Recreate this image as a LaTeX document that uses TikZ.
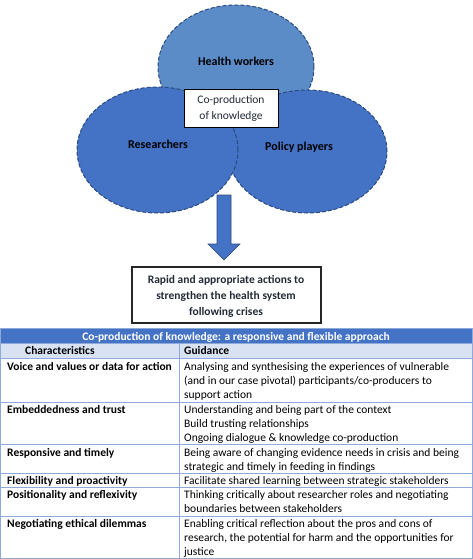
\documentclass[tikz,border=0pt]{standalone}
\usepackage{fontspec}
\setmainfont{Carlito}
\usetikzlibrary{shapes.geometric}
\definecolor{hwblue}{HTML}{5B8CC8}
\definecolor{lblue}{HTML}{4472C4}
\definecolor{dblue}{HTML}{2A4A80}
\definecolor{rowblue}{HTML}{D9E2F3}
\definecolor{gridblue}{HTML}{8EAADB}
\definecolor{txtdark}{HTML}{222A35}
\tikzset{
  venn/.style={ellipse, draw=dblue, line width=1pt, dash pattern=on 4pt off 2pt, inner sep=0pt},
  vlabel/.style={anchor=base, inner sep=0pt, text=black, font=\fontsize{12}{14}\selectfont\bfseries},
  boxtxt/.style={anchor=base, inner sep=0pt, text=txtdark, font=\fontsize{11.5}{14}\selectfont},
  acttxt/.style={anchor=base, inner sep=0pt, text=txtdark, font=\fontsize{11.5}{14}\selectfont\bfseries},
  cell/.style={anchor=base west, inner sep=0pt, text=black, font=\fontsize{11.5}{14}\selectfont},
  cellb/.style={cell, font=\fontsize{11.5}{14}\selectfont\bfseries},
  gridline/.style={draw=gridblue, line width=0.8pt},
}
\begin{document}
\begin{tikzpicture}[x=1pt,y=-1pt]
\useasboundingbox (0,0) rectangle (473,559);
% Venn ellipses
\node[venn, fill=hwblue, minimum width=156pt, minimum height=124pt] (hw) at (236,67) {};
\node[venn, fill=lblue, minimum width=159pt, minimum height=123pt] (pp) at (307.5,151.5) {};
\node[venn, fill=lblue, minimum width=161pt, minimum height=126pt] (rs) at (157.5,150) {};
\node[vlabel] (hwt) at (236,66) {Health workers};
\node[vlabel] (rst) at (158,148) {Researchers};
\node[vlabel] (ppt) at (299,150) {Policy players};
% centre box
\node[draw=black, fill=white, line width=0.9pt, minimum width=94pt, minimum height=38pt, inner sep=0pt] (co) at (231,108) {};
\node[boxtxt] (co1) at (231,104) {Co-production};
\node[boxtxt] (co2) at (231,120) {of knowledge};
% block arrow
\coordinate (atop) at (224,195);
\coordinate (atip) at (224,260);
\fill[lblue, draw=dblue, line width=0.6pt] ([xshift=-7pt]atop) -- ([xshift=7pt]atop) -- (231,244) -- (240,244) -- (atip) -- (208,244) -- (217,244) -- cycle;
% action box
\node[draw=black!85, line width=1.5pt, minimum width=189pt, minimum height=56pt, inner sep=0pt] (act) at (226.5,295) {};
\node[acttxt] (act1) at (226,283) {Rapid and appropriate actions to};
\node[acttxt] (act2) at (226,299) {strengthen the health system};
\node[acttxt] (act3) at (226,315) {following crises};
% table
\fill[lblue] (0,328) rectangle (473,343);
\fill[rowblue] (0,343) rectangle (473,358);
\draw[gridline] (0.4,328) rectangle (472.6,558.6);
\foreach \yy in {343,358,402,444,473,487,516} \draw[gridline] (0.4,\yy) -- (472.6,\yy);
\draw[gridline] (179,343) -- (179,558.6);
\node[cellb, anchor=base, text=white] (th) at (236,340) {Co-production of knowledge: a responsive and flexible approach};
\node[cellb] (c0) at (25,354) {Characteristics};
\node[cellb] (g0) at (184,354) {Guidance};
\node[cellb] (c1) at (7,370) {Voice and values or data for action};
\node[cell] (g1a) at (184,370) {Analysing and synthesising the experiences of vulnerable};
\node[cell] (g1b) at (184,384) {(and in our case pivotal) participants/co-producers to};
\node[cell] (g1c) at (184,398) {support action};
\node[cellb] (c2) at (7,413) {Embeddedness and trust};
\node[cell] (g2a) at (184,413) {Understanding and being part of the context};
\node[cell] (g2b) at (184,427) {Build trusting relationships};
\node[cell] (g2c) at (184,441) {Ongoing dialogue \& knowledge co-production};
\node[cellb] (c3) at (7,456) {Responsive and timely};
\node[cell] (g3a) at (184,456) {Being aware of changing evidence needs in crisis and being};
\node[cell] (g3b) at (184,470) {strategic and timely in feeding in findings};
\node[cellb] (c4) at (7,484) {Flexibility and proactivity};
\node[cell] (g4a) at (184,484) {Facilitate shared learning between strategic stakeholders};
\node[cellb] (c5) at (7,498) {Positionality and reflexivity};
\node[cell] (g5a) at (184,498) {Thinking critically about researcher roles and negotiating};
\node[cell] (g5b) at (184,512) {boundaries between stakeholders};
\node[cellb] (c6) at (7,527) {Negotiating ethical dilemmas};
\node[cell] (g6a) at (184,527) {Enabling critical reflection about the pros and cons of};
\node[cell] (g6b) at (184,541) {research, the potential for harm and the opportunities for};
\node[cell] (g6c) at (184,555) {justice};
\end{tikzpicture}
\end{document}
